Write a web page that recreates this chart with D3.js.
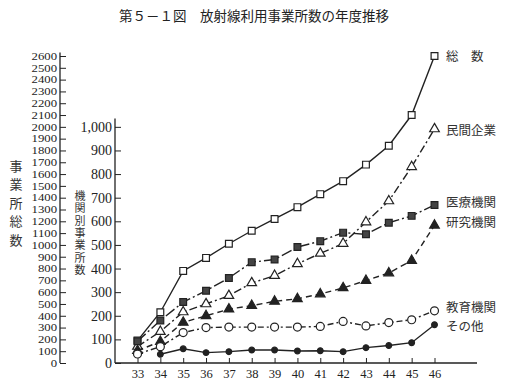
<!DOCTYPE html>
<html>
<head>
<meta charset="utf-8">
<script src="https://cdn.jsdelivr.net/npm/d3@7"></script>
<style>
  body { margin: 0; background: #fff; }
  svg { display: block; }
  .num { font-family: 'Liberation Serif', 'DejaVu Serif', serif; font-size: 12.5px; fill: #222; }
  .jp { font-family: 'Noto Sans CJK JP', sans-serif; fill: #333; }
</style>
</head>
<body>
<svg></svg>
<script>
let years = [33, 34, 35, 36, 37, 38, 39, 40, 41, 42, 43, 44, 45, 46]

// 総数 (left outer scale)
let total = [190, 430, 780, 890, 1010, 1120, 1220, 1320, 1430, 1540, 1680, 1840, 2100, 2600]

// 機関別 (inner scale)
let private_ = [70, 133, 216, 250, 285, 339, 370, 420, 464, 506, 597, 686, 831, 991]
let medical = [92, 180, 258, 306, 360, 427, 438, 491, 516, 552, 545, 594, 623, 669]
let research = [52, 91, 172, 200, 228, 243, 261, 272, 292, 318, 349, 381, 434, 583]
let education = [38, 69, 129, 150, 152, 152, 152, 152, 155, 176, 157, 171, 183, 221]
let others = [null, 37, 60, 44, 48, 55, 55, 51, 52, 48, 65, 74, 86, 162]

let outerTicks = d3.range(0, 2601, 100)
let innerTicks = d3.range(0, 1001, 100)

let width = 514
let height = 391

let svg = d3.select('svg')
  .attr('width', width)
  .attr('height', height)

let xScale = d3.scaleLinear()
                .domain([33, 46])
                .range([137.5, 434.5])

let yOuter = d3.scaleLinear()
                .domain([0, 2600])
                .range([363, 56])

// inner axis: 1,000 lines up with outer 2000
let yInner = d3.scaleLinear()
                .domain([0, 1300])
                .range([363, 56])

// title
svg.append('text')
    .attr('class', 'jp')
    .attr('x', 254)
    .attr('y', 21)
    .style('text-anchor', 'middle')
    .style('font-size', '13.5px')
    .style('fill', '#222')
    .text('第５－１図　放射線利用事業所数の年度推移')

// outer axis
let outerAxis = d3.axisLeft(yOuter)
                  .tickValues(outerTicks)
                  .tickFormat(d3.format('d'))
                  .tickSizeInner(-6)
                  .tickSizeOuter(0)
                  .tickPadding(3)

let gOuter = svg.append('g')
    .attr('transform', 'translate(60, 0)')
    .call(outerAxis)
// labels are packed tight: small font stretched sideways
gOuter.selectAll('text').attr('class', 'num').attr('font-family', null).attr('font-size', null)
  .style('font-size', '10.2px')
  .attr('transform', 'scale(1.25, 1)')
  .attr('x', -2.4)
gOuter.select('.domain').attr('d', `M0,${yOuter(2630)}V${yOuter(0)}`).attr('stroke', '#222').attr('stroke-width', 1.3)
gOuter.selectAll('.tick line').attr('stroke', '#222')

// inner axis
let innerAxis = d3.axisLeft(yInner)
                  .tickValues(innerTicks)
                  .tickFormat(d3.format(','))
                  .tickSizeInner(-6)
                  .tickSizeOuter(0)
                  .tickPadding(3)

let gInner = svg.append('g')
    .attr('transform', 'translate(115, 0)')
    .call(innerAxis)
gInner.selectAll('text').attr('class', 'num').attr('font-family', null).attr('font-size', null)
  .style('font-size', '14px')
gInner.select('.domain').attr('d', `M0,${yInner(1035)}V${yInner(0)}`).attr('stroke', '#222').attr('stroke-width', 1.3)
gInner.selectAll('.tick line').attr('stroke', '#222')

// x axis
let xAxis = d3.axisBottom(xScale)
              .tickValues(years)
              .tickSizeInner(-5)
              .tickSizeOuter(0)
              .tickPadding(6)

let gX = svg.append('g')
    .attr('transform', 'translate(0, 363)')
    .call(xAxis)
gX.selectAll('text').attr('class', 'num').attr('font-family', null).attr('font-size', null)
gX.select('.domain').attr('d', 'M115,0H477').attr('stroke', '#222').attr('stroke-width', 1.3)
gX.selectAll('.tick line').attr('stroke', '#222')

// vertical axis titles
svg.append('text')
    .attr('class', 'jp')
    .attr('x', 16)
    .attr('y', 159.5)
    .style('writing-mode', 'vertical-rl')
    .style('font-size', '13px')
    .style('letter-spacing', '5.5px')
    .text('事業所総数')

svg.append('text')
    .attr('class', 'jp')
    .attr('x', 80)
    .attr('y', 190.5)
    .style('writing-mode', 'vertical-rl')
    .style('font-size', '11px')
    .style('letter-spacing', '1.3px')
    .text('機関別事業所数')

let series = [
  { name: '総数', label: '総　数', values: total, scale: yOuter, dash: null, marker: 'square', fill: '#fff', labelY: 57 },
  { name: '民間企業', label: '民間企業', values: private_, scale: yInner, dash: '8,3,2,3', marker: 'triangle', fill: '#fff', labelY: 131 },
  { name: '医療機関', label: '医療機関', values: medical, scale: yInner, dash: '11,3,2,3', marker: 'square', fill: '#444', labelY: 203 },
  { name: '研究機関', label: '研究機関', values: research, scale: yInner, dash: '6,4', marker: 'triangle', fill: '#222', labelY: 223 },
  { name: '教育機関', label: '教育機関', values: education, scale: yInner, dash: '6,3,2,3', marker: 'circle', fill: '#fff', labelY: 308 },
  { name: 'その他', label: 'その他', values: others, scale: yInner, dash: null, marker: 'dot', fill: '#222', labelY: 327 }
]

series.forEach(s => {
  let pts = years.map((y, i) => ({ year: y, value: s.values[i] })).filter(d => d.value != null)

  let line = d3.line()
                .x(d => xScale(d.year))
                .y(d => s.scale(d.value))

  svg.append('path')
      .datum(pts)
      .attr('d', line)
      .attr('fill', 'none')
      .attr('stroke', '#222')
      .attr('stroke-width', 1.4)
      .attr('stroke-dasharray', s.dash)

  let symbol = {
    square: d3.symbol(d3.symbolSquare, 46),
    triangle: d3.symbol(d3.symbolTriangle, 40),
    circle: d3.symbol(d3.symbolCircle, 50),
    dot: d3.symbol(d3.symbolCircle, 26)
  }[s.marker]

  svg.append('g')
    .selectAll('path')
    .data(pts)
    .enter()
    .append('path')
      .attr('transform', d => `translate(${xScale(d.year)}, ${s.scale(d.value)})`)
      .attr('d', symbol)
      .attr('fill', s.fill)
      .attr('stroke', '#222')
      .attr('stroke-width', 1.2)

  svg.append('text')
      .attr('class', 'jp')
      .attr('x', 446)
      .attr('y', s.labelY)
      .attr('dy', '0.35em')
      .style('font-size', '12.5px')
      .text(s.label)
})
</script>
</body>
</html>
